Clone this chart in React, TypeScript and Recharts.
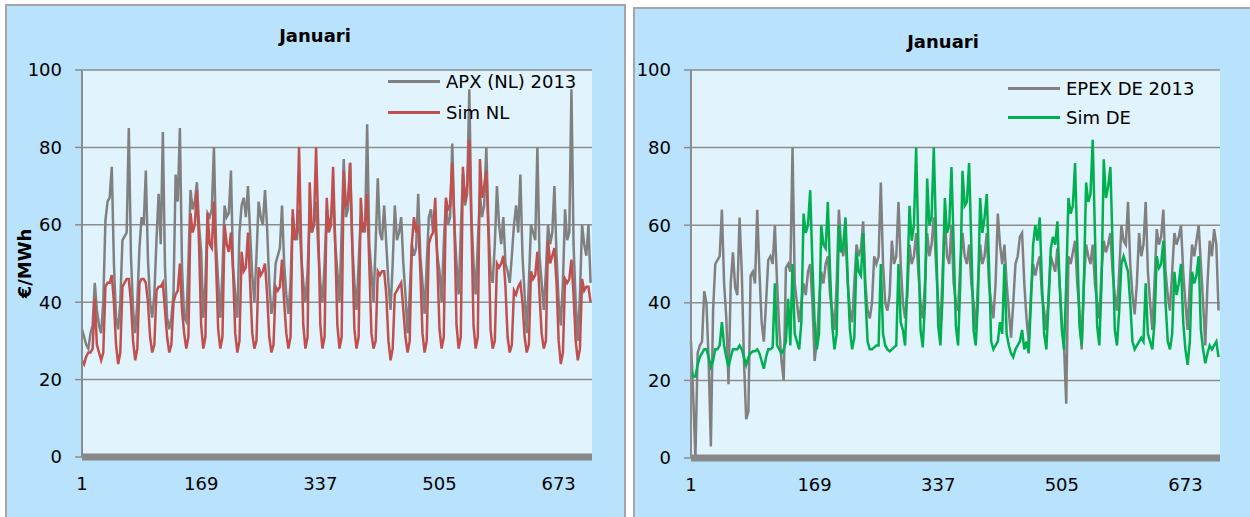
import React from "react"
import { LineChart, Line, XAxis, YAxis, CartesianGrid, Legend } from "recharts"

// January prices (EUR/MWh), read every 3 hours: one row = one day (00h ... 21h)
const apxNL = [
  [33, 31, 29, 28, 32, 34, 45, 38],
  [34, 32, 40, 61, 66, 67, 75, 50],
  [36, 33, 40, 56, 57, 58, 85, 52],
  [38, 32, 40, 54, 62, 60, 74, 51],
  [40, 36, 42, 56, 68, 55, 84, 49],
  [36, 33, 36, 42, 73, 66, 85, 49],
  [36, 35, 50, 69, 64, 66, 71, 60],
  [53, 36, 45, 63, 62, 64, 80, 55],
  [45, 36, 48, 65, 62, 63, 74, 49],
  [42, 36, 58, 65, 67, 62, 70, 58],
  [47, 40, 52, 66, 62, 60, 69, 59],
  [45, 37, 40, 50, 52, 54, 65, 50],
  [42, 37, 45, 62, 58, 56, 64, 52],
  [45, 40, 48, 63, 58, 60, 66, 54],
  [45, 40, 50, 64, 60, 62, 68, 55],
  [48, 40, 58, 77, 62, 64, 76, 55],
  [45, 38, 50, 62, 60, 58, 86, 55],
  [48, 40, 55, 72, 58, 56, 65, 55],
  [45, 38, 50, 65, 56, 58, 62, 50],
  [42, 32, 42, 55, 52, 54, 68, 52],
  [45, 37, 50, 62, 64, 58, 60, 52],
  [48, 40, 55, 66, 60, 62, 81, 60],
  [50, 42, 58, 73, 65, 68, 95, 62],
  [50, 42, 55, 68, 62, 65, 80, 60],
  [48, 45, 55, 70, 60, 55, 62, 50],
  [48, 45, 52, 60, 65, 58, 73, 52],
  [42, 32, 45, 60, 58, 56, 80, 52],
  [45, 38, 48, 60, 55, 58, 70, 52],
  [40, 34, 45, 64, 56, 58, 95, 55],
  [40, 30, 42, 60, 55, 52, 60, 45],
].flat()

const simNL = [
  [25, 24, 26, 27, 27, 28, 41, 29],
  [27, 25, 27, 44, 45, 45, 47, 40],
  [29, 24, 27, 44, 45, 46, 46, 40],
  [30, 25, 28, 45, 46, 46, 45, 40],
  [31, 27, 29, 43, 44, 44, 45, 38],
  [31, 27, 29, 40, 42, 43, 50, 38],
  [32, 28, 31, 63, 58, 60, 69, 55],
  [34, 28, 31, 63, 55, 54, 66, 50],
  [33, 28, 31, 60, 55, 53, 58, 48],
  [32, 27, 30, 53, 48, 49, 58, 45],
  [32, 28, 30, 49, 47, 48, 50, 42],
  [31, 27, 29, 44, 43, 44, 51, 40],
  [32, 28, 31, 64, 56, 58, 80, 55],
  [34, 28, 31, 71, 58, 60, 80, 60],
  [34, 28, 31, 67, 58, 60, 75, 55],
  [34, 28, 31, 74, 65, 66, 76, 55],
  [33, 28, 31, 67, 58, 60, 68, 50],
  [32, 28, 30, 48, 47, 48, 48, 42],
  [30, 25, 28, 42, 43, 44, 45, 38],
  [31, 27, 30, 55, 62, 58, 60, 48],
  [32, 27, 30, 55, 57, 58, 67, 50],
  [33, 28, 31, 67, 64, 65, 76, 60],
  [34, 28, 31, 75, 66, 70, 82, 60],
  [34, 28, 31, 77, 67, 70, 74, 58],
  [33, 28, 30, 50, 49, 50, 52, 44],
  [31, 27, 29, 43, 42, 44, 45, 40],
  [31, 27, 29, 48, 46, 47, 53, 42],
  [32, 28, 30, 56, 50, 52, 54, 45],
  [30, 24, 27, 46, 45, 46, 51, 42],
  [30, 25, 28, 46, 43, 44, 44, 40],
].flat()

const epexDE = [
  [30, 16, 0, 27, 29, 30, 43, 40],
  [25, 3, 38, 50, 51, 52, 64, 45],
  [36, 19, 45, 53, 44, 42, 62, 48],
  [25, 10, 12, 47, 48, 45, 64, 48],
  [35, 30, 40, 51, 52, 50, 60, 45],
  [33, 25, 20, 49, 50, 48, 80, 45],
  [40, 35, 40, 45, 42, 48, 50, 40],
  [25, 30, 40, 48, 45, 50, 52, 42],
  [38, 33, 45, 64, 55, 52, 58, 45],
  [38, 35, 45, 55, 52, 54, 61, 45],
  [38, 36, 40, 52, 50, 52, 71, 50],
  [40, 38, 42, 56, 50, 52, 66, 50],
  [40, 36, 42, 55, 50, 52, 58, 48],
  [40, 36, 45, 58, 52, 55, 62, 50],
  [40, 33, 48, 62, 52, 50, 60, 45],
  [40, 38, 50, 58, 52, 50, 55, 45],
  [40, 33, 45, 55, 50, 52, 58, 45],
  [40, 36, 45, 63, 55, 50, 55, 45],
  [38, 31, 40, 50, 52, 57, 58, 45],
  [36, 30, 42, 50, 47, 50, 52, 42],
  [38, 33, 42, 52, 50, 48, 54, 45],
  [35, 29, 14, 52, 50, 53, 56, 45],
  [38, 28, 45, 55, 52, 50, 55, 45],
  [40, 36, 48, 56, 53, 55, 58, 48],
  [42, 38, 48, 60, 56, 55, 66, 50],
  [42, 37, 45, 58, 52, 55, 66, 48],
  [40, 33, 45, 59, 55, 57, 64, 48],
  [42, 38, 48, 58, 55, 57, 60, 48],
  [40, 33, 45, 55, 52, 56, 60, 50],
  [40, 29, 45, 56, 52, 59, 55, 38],
].flat()

const simDE = [
  [23, 21, 21, 24, 26, 27, 28, 28],
  [26, 23.5, 25, 28, 28, 29, 35, 29],
  [26, 23.5, 26, 28, 28, 28, 29, 28],
  [26, 24, 26, 27, 27.5, 27.5, 28, 27],
  [25, 23, 26, 28, 28, 28.5, 45, 29],
  [28, 27, 28, 30, 41, 29, 50, 32],
  [30, 28, 35, 63, 58, 60, 69, 50],
  [35, 28, 32, 60, 55, 54, 66, 48],
  [34, 28, 32, 60, 53, 55, 62, 46],
  [33, 28, 31, 53, 48, 47, 58, 42],
  [30, 28, 28, 28.5, 29, 29, 50, 32],
  [29, 28, 27.5, 28, 28.5, 29, 50, 35],
  [33, 29, 45, 65, 56, 60, 80, 55],
  [33, 28.5, 40, 72, 60, 62, 80, 58],
  [34, 29, 42, 67, 58, 60, 75, 55],
  [34, 29, 45, 74, 65, 66, 76, 55],
  [33, 29, 40, 67, 58, 62, 68, 50],
  [30, 28, 29, 30, 35, 32, 50, 32],
  [29, 27, 26, 28, 29, 30, 33, 28],
  [30, 27, 40, 55, 60, 56, 62, 45],
  [32, 28, 40, 54, 57, 55, 61, 45],
  [33, 28, 45, 67, 63, 65, 76, 55],
  [34, 29, 45, 71, 66, 68, 82, 58],
  [34, 29, 45, 77, 67, 70, 75, 55],
  [33, 29, 38, 50, 52, 50, 48, 40],
  [30, 28, 29, 30, 31, 30, 45, 32],
  [30, 28, 35, 52, 49, 50, 56, 40],
  [30, 28, 32, 48, 42, 45, 50, 35],
  [28, 24, 30, 48, 45, 47, 52, 33],
  [28, 24.4, 27, 29, 28, 29, 30, 26],
].flat()

const hourTicks = [1, 169, 337, 505, 673]
const priceTicks = [0, 20, 40, 60, 80, 100]

// hour of the month for each reading
const hours = apxNL.map((_, i) => 1 + 3 * i)

const nlData = hours.map((h, i) => ({ hour: h, real: apxNL[i], sim: simNL[i] }))
const deData = hours.map((h, i) => ({ hour: h, real: epexDE[i], sim: simDE[i] }))

const FONT = "'DejaVu Sans', Verdana, sans-serif"
const PANEL_BG = "#b9e2fc"
const PLOT_BG = "#e1f3fd"
const GRID = "#8c8c8c"

function LegendBox({ payload, gap }: any) {
  return (
    <div style={{ fontFamily: FONT, fontSize: 18, color: "#000" }}>
      {(payload || []).map((p: any) => (
        <div key={p.value} style={{ display: "flex", alignItems: "center", height: gap }}>
          <div style={{ width: 52, height: 3, background: p.color, marginRight: 6 }} />
          <span style={{ whiteSpace: "nowrap" }}>{p.value}</span>
        </div>
      ))}
    </div>
  )
}

function PriceChart({ data, realName, simName, simColor, left, width, plotLeft, plotBottom, legendLeft, legendTop, legendGap, yLabel }: any) {
  return (
    <div style={{ position: "absolute", left, top: 0 }}>
      <LineChart
        width={width}
        height={517}
        data={data}
        margin={{ top: 70, right: 30, bottom: 517 - plotBottom - 40, left: plotLeft - 60 }}
      >
        <CartesianGrid vertical={false} fill={PLOT_BG} stroke={GRID} strokeWidth={1.5} horizontalValues={priceTicks} />
        <XAxis
          dataKey="hour"
          type="number"
          domain={[1, 720]}
          ticks={hourTicks}
          height={40}
          tickSize={0}
          tickMargin={20}
          tickLine={false}
          axisLine={{ stroke: "#888888", strokeWidth: 7 }}
          tick={{ fontSize: 18, fill: "#000", fontFamily: FONT }}
          interval={0}
        />
        <YAxis
          domain={[0, 100]}
          ticks={priceTicks}
          width={60}
          tickSize={7}
          tickMargin={13}
          axisLine={{ stroke: GRID, strokeWidth: 2 }}
          tickLine={{ stroke: GRID, strokeWidth: 1.5 }}
          tick={{ fontSize: 18, fill: "#000", fontFamily: FONT }}
          label={
            yLabel
              ? {
                  value: yLabel,
                  angle: -90,
                  position: "insideLeft",
                  offset: 3,
                  style: { textAnchor: "middle", fontSize: 18, fontWeight: "bold", fill: "#000", fontFamily: FONT },
                }
              : undefined
          }
        />
        <Legend
          layout="vertical"
          align="center"
          verticalAlign="middle"
          wrapperStyle={{ left: legendLeft, top: legendTop, width: 250 }}
          content={(props: any) => <LegendBox payload={props.payload} gap={legendGap} />}
        />
        <Line
          type="linear"
          dataKey="real"
          name={realName}
          stroke="#808080"
          strokeWidth={2.5}
          dot={false}
          isAnimationActive={false}
        />
        <Line
          type="linear"
          dataKey="sim"
          name={simName}
          stroke={simColor}
          strokeWidth={2.5}
          dot={false}
          isAnimationActive={false}
        />
      </LineChart>
    </div>
  )
}

export default function App() {
  return (
    <div style={{ position: "absolute", left: 0, top: 0, width: 1250, height: 517, overflow: "hidden", background: "#fff", fontFamily: FONT }}>
      {/* panel backgrounds */}
      <div style={{ position: "absolute", left: 5, top: 4, width: 617, height: 530, background: PANEL_BG, border: "2px solid #a6a6a6" }} />
      <div style={{ position: "absolute", left: 633, top: 7, width: 640, height: 530, background: PANEL_BG, border: "2px solid #a6a6a6" }} />

      {/* titles */}
      <div style={{ position: "absolute", left: 215, top: 26, width: 200, textAlign: "center", fontWeight: "bold", fontSize: 18, lineHeight: "20px" }}>
        Januari
      </div>
      <div style={{ position: "absolute", left: 843, top: 32, width: 200, textAlign: "center", fontWeight: "bold", fontSize: 18, lineHeight: "20px" }}>
        Januari
      </div>

      <PriceChart
        data={nlData}
        realName="APX (NL) 2013"
        simName="Sim NL"
        simColor="#c0504d"
        left={0}
        width={622}
        plotLeft={82}
        plotBottom={457}
        legendLeft={388}
        legendTop={66}
        legendGap={31}
        yLabel="€/MWh"
      />
      <PriceChart
        data={deData}
        realName="EPEX DE 2013"
        simName="Sim DE"
        simColor="#00b050"
        left={600}
        width={650}
        plotLeft={91}
        plotBottom={458}
        legendLeft={408}
        legendTop={74}
        legendGap={29}
      />
    </div>
  )
}
